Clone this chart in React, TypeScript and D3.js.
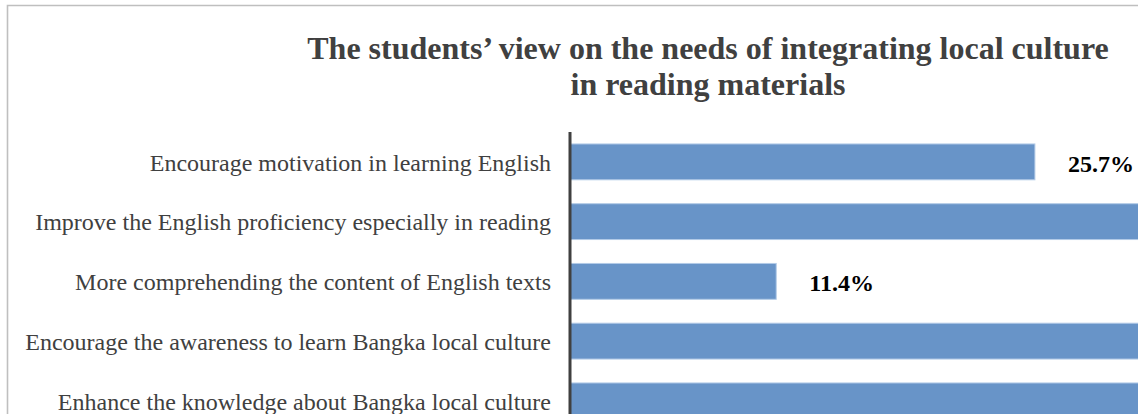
import React from 'react';
import * as d3 from 'd3';

// Survey answers, top to bottom as in the chart
const categories: string[] = [
  'Encourage motivation in learning English',
  'Improve the English proficiency especially in reading',
  'More comprehending the content of English texts',
  'Encourage the awareness to learn Bangka local culture',
  'Enhance the knowledge about Bangka local culture',
];

// percentages (bars 2, 4 and 5 run past the visible area, estimated)
const values: number[] = [25.7, 42.9, 11.4, 40.0, 45.7];

const titleLines: string[] = [
  'The students\u2019 view on the needs of integrating local culture',
  'in reading materials',
];

const width = 1138;
const height = 414;
const margin = { top: 132, left: 570 };

const App: React.FC = () => {
  const x = d3.scaleLinear().domain([0, 50]).range([margin.left, margin.left + 904.5]);

  const y = d3.scaleBand<string>()
    .domain(categories)
    .range([margin.top, margin.top + 298.75])
    .paddingInner(0.4)
    .paddingOuter(0.2);

  const serif = '"Liberation Serif", "Times New Roman", serif';

  // the data labels of the long bars sit outside the cropped picture
  const labelFits = (v: number) => x(v) + 33 + 70 <= width;

  return (
    <svg
      width={width}
      height={height}
      style={{ position: 'absolute', left: 0, top: 0, background: '#fff' }}
      fontFamily={serif}
    >
      {/* chart frame */}
      <path d={`M7.5,${height}V5.5H${width}`} fill="none" stroke="#bfbfbf" strokeWidth={1.6} />

      <g fill="#404040" fontWeight="bold" fontSize={32} textAnchor="middle">
        {titleLines.map((t, i) => (
          <text key={i} x={708} y={59 + i * 36}>{t}</text>
        ))}
      </g>

      <g>
        {categories.map((c, i) => (
          <rect
            key={c}
            x={x(0)}
            y={y(c)!}
            width={x(values[i]) - x(0)}
            height={y.bandwidth()}
            fill="#6894c8"
            stroke="#b3cbe7"
            strokeWidth={1}
          />
        ))}
      </g>

      <g fontSize={24} fill="#404040" textAnchor="end">
        {categories.map((c) => (
          <text key={c} x={margin.left - 19} y={y(c)! + y.bandwidth() / 2} dy="0.36em">{c}</text>
        ))}
      </g>

      <g fontSize={24} fontWeight="bold" fill="#000">
        {categories.map((c, i) =>
          labelFits(values[i]) ? (
            <text key={c} x={x(values[i]) + 33} y={y(c)! + y.bandwidth() / 2} dy="0.42em">
              {values[i].toFixed(1)}%
            </text>
          ) : null
        )}
      </g>

      {/* category axis */}
      <line
        x1={margin.left}
        x2={margin.left}
        y1={margin.top}
        y2={height}
        stroke="#404040"
        strokeWidth={3}
      />
    </svg>
  );
};

export default App;
